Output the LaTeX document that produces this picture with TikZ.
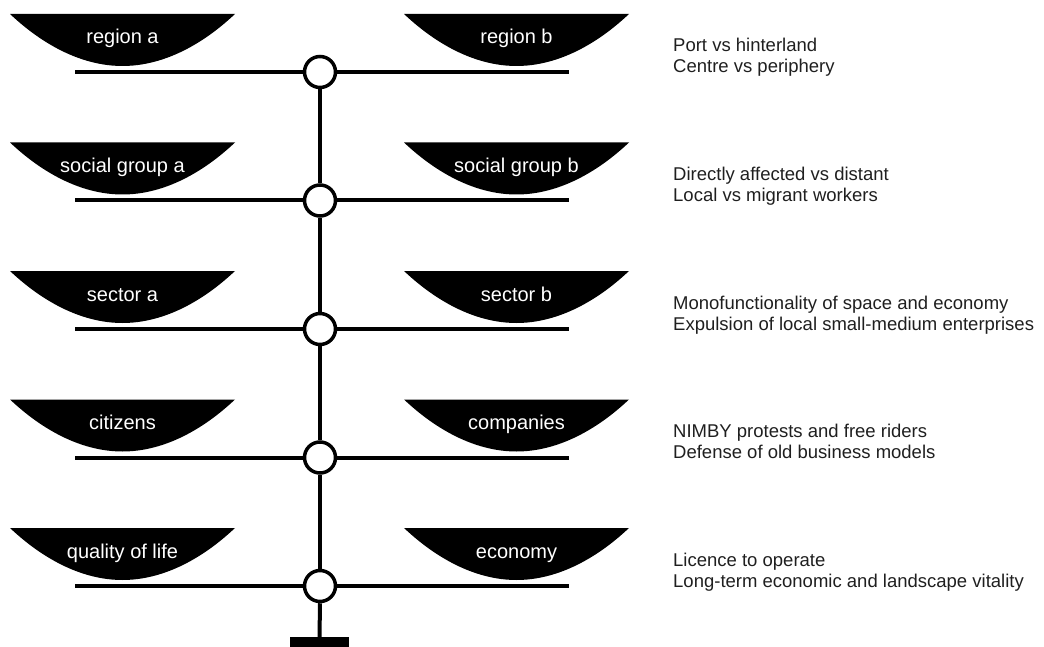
\documentclass[tikz,border=0pt]{standalone}
\usepackage{fontspec}
\setmainfont{Liberation Sans}
\begin{document}
\begin{tikzpicture}[x=1pt,y=-1pt,
  pivot/.style={circle,draw,fill=white,line width=3.5pt,minimum size=31pt,inner sep=0pt},
  beam/.style={line width=4pt},
  stem/.style={line width=4pt},
  pan/.style={fill=black},
  panlabel/.style={text=white,font=\fontsize{20}{20}\selectfont,anchor=base,inner sep=0pt},
  note/.style={text=black!88,font=\fontsize{18.5}{21.5}\selectfont,anchor=base west,inner sep=0pt},
  footbox/.style={fill=black,rectangle,minimum width=59pt,minimum height=10pt,inner sep=0pt}]
\useasboundingbox (0,0) rectangle (1044,647);
\foreach \i/\la/\lb/\na/\nb in {
  1/region a/region b/Port vs hinterland/Centre vs periphery,
  2/social group a/social group b/Directly affected vs distant/Local vs migrant workers,
  3/sector a/sector b/Monofunctionality of space and economy/Expulsion of local small-medium enterprises,
  4/citizens/companies/NIMBY protests and free riders/Defense of old business models,
  5/quality of life/economy/Licence to operate/Long-term economic and landscape vitality}{
  \pgfmathsetmacro{\cy}{72+128.5*(\i-1)}
  \fill[pan] (10,\cy-58) parabola bend (122.5,\cy-6) (235,\cy-58) -- cycle;
  \fill[pan] (404,\cy-58) parabola bend (516.5,\cy-6) (629,\cy-58) -- cycle;
  \node[panlabel] (pa\i) at (122.5,\cy-28) {\la};
  \node[panlabel] (pb\i) at (516.5,\cy-28) {\lb};
  \node[pivot] (c\i) at (320,\cy) {};
  \coordinate (l\i) at (75,\cy);
  \coordinate (r\i) at (569,\cy);
  \draw[beam] (l\i) -- (c\i.west);
  \draw[beam] (c\i.east) -- (r\i);
  \node[note] (na\i) at (673,\cy-20) {\na};
  \node[note] (nb\i) at (673,\cy+1) {\nb};
}
\node[footbox] (foot) at (319.5,642) {};
\draw[stem] (c1.south) -- (c2.north);
\draw[stem] (c2.south) -- (c3.north);
\draw[stem] (c3.south) -- (c4.north);
\draw[stem] (c4.south) -- (c5.north);
\draw[stem] (c5.south) -- (foot.north);
\end{tikzpicture}
\end{document}
